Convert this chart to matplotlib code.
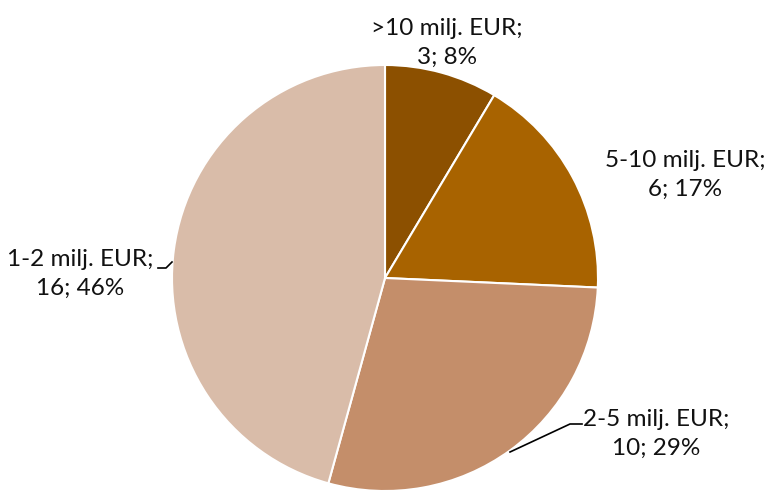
import matplotlib.pyplot as plt

categories = [">10 milj. EUR", "5-10 milj. EUR", "2-5 milj. EUR", "1-2 milj. EUR"]
counts = [3, 6, 10, 16]
percents = [8, 17, 29, 46]
colors = ["#8c5000", "#a86300", "#c48e6a", "#d9bca9"]

# label centres in pixel coordinates (y from top)
label_pos = [(447, 43), (685, 175), (656, 434), (80, 274)]

W, H = 766, 490
fig = plt.figure(figsize=(W / 100, H / 100), dpi=100)
ax = fig.add_axes([0, 0, 1, 1])

cx, cy, r = 385, H - 278, 213
ax.pie(counts, colors=colors, startangle=90, counterclock=False,
       center=(cx, cy), radius=r, frame=True,
       wedgeprops=dict(edgecolor="white", linewidth=1.5))
ax.set_xlim(0, W)
ax.set_ylim(0, H)
ax.set_aspect("equal")
ax.axis("off")

for cat, c, p, (lx, ly) in zip(categories, counts, percents, label_pos):
    ax.text(lx, H - ly, f"{cat};\n{c}; {p}%", ha="center", va="center",
            fontsize=17.5, family="Lato", linespacing=1.42, color="#111111")

# leader lines
ax.plot([158, 166, 172], [H - 268, H - 268, H - 262], color="black", lw=1.2)
ax.plot([582, 570, 510], [H - 424, H - 424, H - 452], color="black", lw=1.2)

fig.savefig("out.png", dpi=100)
